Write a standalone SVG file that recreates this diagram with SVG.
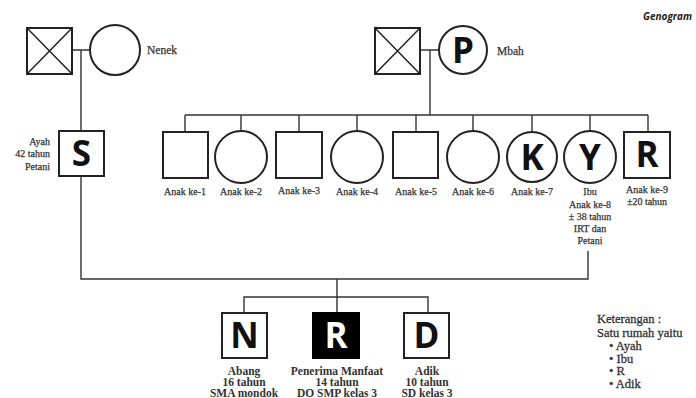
<svg xmlns="http://www.w3.org/2000/svg" width="696" height="398" viewBox="0 0 696 398">
<style>
.nd{fill:#fff;stroke:#222;stroke-width:2}
.x{stroke:#222;stroke-width:1.5}
.ln{fill:none;stroke:#333;stroke-width:1.4}
.lt{font-family:"Open Sans","Noto Sans",sans-serif;font-weight:bold;font-size:35px;fill:#111;text-anchor:middle}
.lb{font-family:"Liberation Serif",serif;font-size:10px;fill:#333;stroke:#333;stroke-width:0.25;text-anchor:middle}
.lr{text-anchor:end}
.bb{font-family:"Liberation Serif",serif;font-weight:bold;font-size:11.5px;fill:#333;text-anchor:middle}
.ll{font-family:"Liberation Serif",serif;font-size:11.5px;fill:#333;stroke:#333;stroke-width:0.25}
.kt{font-family:"Liberation Serif",serif;font-size:12.5px;fill:#333;stroke:#333;stroke-width:0.3}
</style>
<rect width="696" height="398" fill="#fff"/>
<text x="692" y="20" font-family="Open Sans,sans-serif" font-weight="bold" font-style="italic" font-size="10" fill="#222" text-anchor="end">Genogram</text>
<g id="connectors">
<path class="ln" d="M72 50H89M81 50V131M81 176V279H588V251M337 279V313M244 313V297H428V313"/>
<path class="ln" d="M420 50H439M430 50V115M185 115H648M185 115V132M241 115V131M299 115V132M357 115V131M416 115V132M473 115V131M532 115V131M590 115V131M648 115V132"/>
</g>
<g id="kakek1"><rect class="nd" x="27" y="28" width="45" height="46"/><path class="x" d="M27 28L72 74M72 28L27 74"/></g>
<g id="nenek"><circle class="nd" cx="115" cy="50" r="25"/><text class="ll" x="147" y="54">Nenek</text></g>
<g id="kakek2"><rect class="nd" x="375" y="28" width="45" height="46"/><path class="x" d="M375 28L420 74M420 28L375 74"/></g>
<g id="mbah"><circle class="nd" cx="463" cy="50" r="24"/><text class="lt" x="463" y="63">P</text><text class="ll" x="497" y="55">Mbah</text></g>
<g id="ayah"><rect class="nd" x="59" y="131" width="45" height="45"/><text class="lt" x="81.5" y="166">S</text>
<text class="lb lr" x="50" y="145">Ayah</text>
<text class="lb lr" x="50" y="157">42 tahun</text>
<text class="lb lr" x="50" y="170">Petani</text></g>
<g id="anak1"><rect class="nd" x="163" y="132" width="45" height="46"/><text class="lb" x="185" y="195">Anak ke-1</text></g>
<g id="anak2"><circle class="nd" cx="241" cy="157" r="26"/><text class="lb" x="241" y="195">Anak ke-2</text></g>
<g id="anak3"><rect class="nd" x="276" y="132" width="46" height="46"/><text class="lb" x="299" y="194">Anak ke-3</text></g>
<g id="anak4"><circle class="nd" cx="357" cy="157" r="26"/><text class="lb" x="357" y="195">Anak ke-4</text></g>
<g id="anak5"><rect class="nd" x="393" y="132" width="45" height="46"/><text class="lb" x="416" y="195">Anak ke-5</text></g>
<g id="anak6"><circle class="nd" cx="473" cy="157" r="26"/><text class="lb" x="473" y="195">Anak ke-6</text></g>
<g id="anak7"><circle class="nd" cx="532" cy="157" r="25"/><text class="lt" x="532" y="170">K</text><text class="lb" x="532" y="195">Anak ke-7</text></g>
<g id="ibu"><circle class="nd" cx="590" cy="157" r="26"/><text class="lt" x="590" y="170">Y</text>
<text class="lb" x="590" y="195">Ibu</text>
<text class="lb" x="590" y="208">Anak ke-8</text>
<text class="lb" x="590" y="220">± 38 tahun</text>
<text class="lb" x="590" y="232">IRT dan</text>
<text class="lb" x="590" y="244">Petani</text></g>
<g id="anak9"><rect class="nd" x="624" y="132" width="46" height="46"/><text class="lt" x="647" y="167">R</text>
<text class="lb" x="647" y="193">Anak ke-9</text>
<text class="lb" x="647" y="205">±20 tahun</text></g>
<g id="abang"><rect class="nd" x="222" y="313" width="45" height="45"/><text class="lt" x="244.5" y="348">N</text>
<text class="bb" x="244" y="375">Abang</text>
<text class="bb" x="244" y="386">16 tahun</text>
<text class="bb" x="244" y="396.5">SMA mondok</text></g>
<g id="penerima"><rect x="313" y="313" width="46" height="45" fill="#000" stroke="#000" stroke-width="2"/><text class="lt" x="336" y="348" style="fill:#fff">R</text>
<text class="bb" x="337" y="375">Penerima Manfaat</text>
<text class="bb" x="337" y="386">14 tahun</text>
<text class="bb" x="337" y="396.5">DO SMP kelas 3</text></g>
<g id="adik"><rect class="nd" x="404" y="313" width="45" height="45"/><text class="lt" x="426.5" y="348">D</text>
<text class="bb" x="427" y="375">Adik</text>
<text class="bb" x="427" y="386">10 tahun</text>
<text class="bb" x="427" y="396.5">SD kelas 3</text></g>
<g id="keterangan">
<text class="kt" x="597" y="323">Keterangan :</text>
<text class="kt" x="597" y="337">Satu rumah yaitu</text>
<text class="kt" x="609" y="350">• Ayah</text>
<text class="kt" x="609" y="362.5">• Ibu</text>
<text class="kt" x="609" y="375">• R</text>
<text class="kt" x="609" y="388">• Adik</text>
</g>
</svg>
